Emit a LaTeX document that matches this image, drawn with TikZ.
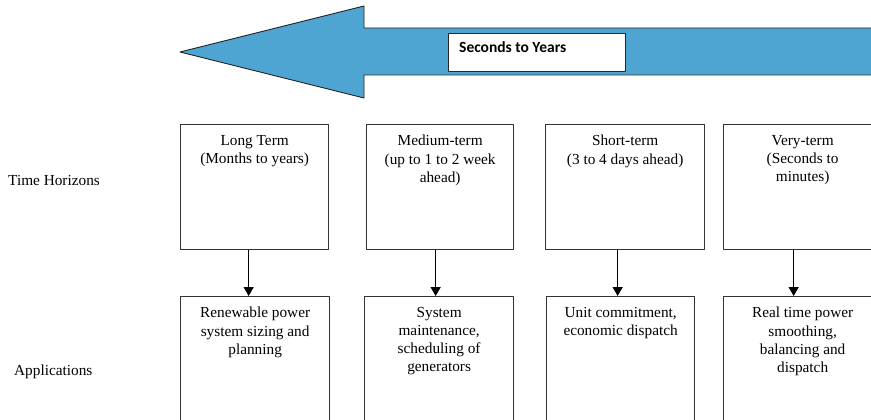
\documentclass[tikz,border=0pt]{standalone}
\usepackage{fontspec}
\setmainfont{Liberation Serif}
\newfontfamily\calibri{Carlito}
\usetikzlibrary{arrows.meta}
\definecolor{spanblue}{RGB}{79,165,210}
\tikzset{
	hbox/.style={draw=black!80,line width=1.3pt,inner sep=0,minimum height=125pt,anchor=north west},
	abox/.style={draw=black!80,line width=1.3pt,inner sep=0,minimum height=150pt,anchor=north west},
	boxtext/.style={anchor=north,inner sep=0,align=center,yshift=-11pt}
}
\begin{document}
\begin{tikzpicture}[x=1pt,y=-1pt,>={Triangle[length=9pt,width=10pt]},line join=round,font=\fontsize{15.3}{18.2}\selectfont]
			\useasboundingbox (0,0) rectangle (871,420);
			\clip (0,0) rectangle (871,420);
			\filldraw[fill=spanblue,draw=black!85,line width=0.9pt] (180,52)--(364,6)--(364,28)--(900,28)--(900,75)--(364,75)--(364,98)--cycle;
			\node[draw=black!85,line width=1.2pt,fill=white,inner sep=0,minimum width=177pt,minimum height=38pt,anchor=north west,
			label={[anchor=west,inner sep=0,xshift=11pt,yshift=5pt,font=\calibri\bfseries\fontsize{15.5}{18}\selectfont]west:Seconds to Years}] (span) at (448,33) {};
			\node[anchor=base west,inner sep=0] (horizons) at (8,185) {Time Horizons};
			\node[anchor=base west,inner sep=0] (apps) at (14,375) {Applications};
			\node[hbox,minimum width=148pt,label={[boxtext]north:Long Term\\(Months to years)}] (t1) at (180,124) {};
			\node[hbox,minimum width=147pt,label={[boxtext]north:Medium-term\\(up to 1 to 2 week\\ahead)}] (t2) at (366,124) {};
			\node[hbox,minimum width=159pt,label={[boxtext]north:Short-term\\(3 to 4 days ahead)}] (t3) at (545,124) {};
			\node[hbox,minimum width=158pt,label={[boxtext]north:Very-term\\(Seconds to\\minutes)}] (t4) at (723,124) {};
			\node[abox,minimum width=149pt,label={[boxtext]north:Renewable power\\system sizing and\\planning}] (b1) at (180,296) {};
			\node[abox,minimum width=149pt,label={[boxtext]north:System\\maintenance,\\scheduling of\\generators}] (b2) at (364,296) {};
			\node[abox,minimum width=148pt,label={[boxtext]north:Unit commitment,\\economic dispatch}] (b3) at (546,296) {};
			\node[abox,minimum width=158pt,label={[boxtext]north:Real time power\\smoothing,\\balancing and\\dispatch}] (b4) at (723,296) {};
			\draw[->,line width=1.4pt] ([xshift=-6pt]t1.south)--([xshift=-6pt]t1.south |- b1.north);
			\draw[->,line width=1.4pt] ([xshift=-4.5pt]t2.south)--([xshift=-4.5pt]t2.south |- b2.north);
			\draw[->,line width=1.4pt] ([xshift=-7.5pt]t3.south)--([xshift=-7.5pt]t3.south |- b3.north);
			\draw[->,line width=1.4pt] ([xshift=-9pt]t4.south)--([xshift=-9pt]t4.south |- b4.north);
\end{tikzpicture}
\end{document}
